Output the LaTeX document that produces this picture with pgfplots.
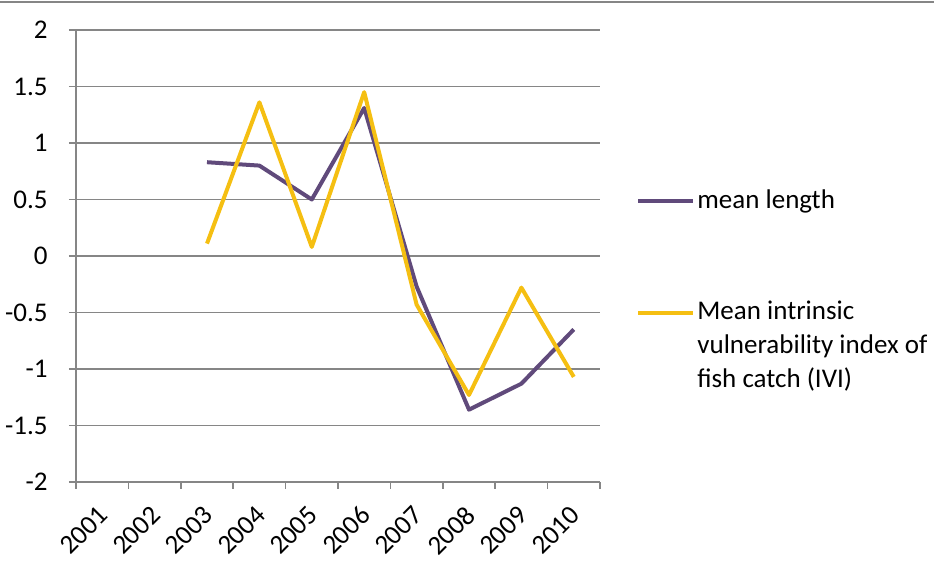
\documentclass[border=0pt]{standalone}
\usepackage{fontspec}
\setmainfont{Carlito}
\usepackage{pgfplots}
\pgfplotsset{compat=1.18}
\definecolor{purp}{HTML}{604A7B}
\definecolor{gold}{HTML}{F5BF12}
\definecolor{gridc}{HTML}{868686}
\begin{document}
\begin{tikzpicture}[font=\fontsize{13.5}{16.5}\selectfont]
\path[use as bounding box] (0,0) rectangle (467pt,280.5pt);
\draw[gridc, line width=0.6pt] (0,279.5pt) -- (467pt,279.5pt);
\begin{axis}[
  at={(38pt,39.5pt)}, anchor=south west, scale only axis,
  width=262pt, height=226pt,
  xmin=0.5, xmax=10.5, ymin=-2, ymax=2,
  axis x line*=bottom, axis y line*=left,
  axis line style={gridc, line width=0.75pt, -},
  xtick={0.5,1.5,2.5,3.5,4.5,5.5,6.5,7.5,8.5,9.5,10.5},
  xticklabels={2001,2002,2003,2004,2005,2006,2007,2008,2009,2010},
  x tick label as interval=true,
  ytick={-2,-1.5,-1,-0.5,0,0.5,1,1.5,2},
  yticklabels={-2,-1.5,-1,-0.5,0,0.5,1,1.5,2},
  tick align=outside, major tick length=3.5pt,
  tick style={gridc, line width=0.75pt},
  ymajorgrids=true, xmajorgrids=false,
  grid style={gridc, line width=0.75pt},
  xticklabel style={rotate=45, anchor=east, inner sep=0pt, xshift=-7.1pt, yshift=-8.2pt},
  yticklabel style={anchor=east, inner sep=0pt, xshift=-10.5pt},
  line join=round,
]
\addplot[purp, line width=2pt] coordinates {
  (3,0.83) (4,0.80) (5,0.50) (6,1.31) (7,-0.27) (8,-1.36) (9,-1.13) (10,-0.65)};
\addplot[gold, line width=2pt] coordinates {
  (3,0.11) (4,1.36) (5,0.08) (6,1.45) (7,-0.43) (8,-1.23) (9,-0.28) (10,-1.07)};
\end{axis}
\draw[purp, line width=2pt] (319pt,180pt) -- (346.5pt,180pt);
\node[anchor=base west, inner sep=0pt] at (348.5pt,176pt) {mean length};
\draw[gold, line width=2pt] (319pt,124pt) -- (346.5pt,124pt);
\node[anchor=base west, inner sep=0pt] at (348.5pt,120.5pt) {Mean intrinsic};
\node[anchor=base west, inner sep=0pt] at (348.5pt,103.5pt) {vulnerability index of};
\node[anchor=base west, inner sep=0pt] at (348.5pt,86.5pt) {fish catch (IVI)};
\end{tikzpicture}
\end{document}
